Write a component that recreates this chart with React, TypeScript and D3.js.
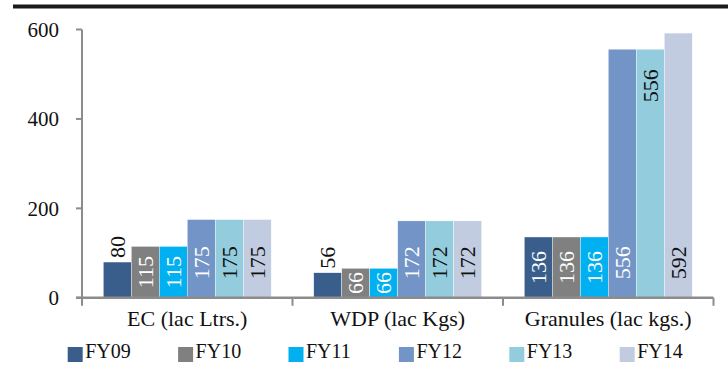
import React from "react";
import * as d3 from "d3";

// Production volumes by product line and fiscal year
const categories = ["EC (lac Ltrs.)", "WDP (lac Kgs)", "Granules (lac kgs.)"];
const seriesNames = ["FY09", "FY10", "FY11", "FY12", "FY13", "FY14"];
const fy09 = [80, 56, 136];
const fy10 = [115, 66, 136];
const fy11 = [115, 66, 136];
const fy12 = [175, 172, 556];
const fy13 = [175, 172, 556];
const fy14 = [175, 172, 592];
const seriesValues = [fy09, fy10, fy11, fy12, fy13, fy14];
const yTicks = [0, 200, 400, 600];

// How each data label is placed relative to its bar
type LabelMode = "outside" | "inside" | "end";
const labelModes: LabelMode[][] = [
  ["outside", "outside", "inside"],
  ["inside", "inside", "inside"],
  ["inside", "inside", "inside"],
  ["inside", "inside", "inside"],
  ["inside", "inside", "end"],
  ["inside", "inside", "inside"],
];

const COLORS = ["#3a5e8c", "#808080", "#00b0f0", "#7394c6", "#93cddd", "#c2cce1"];
const INSIDE_TEXT = ["#ffffff", "#ffffff", "#ffffff", "#ffffff", "#111111", "#111111"];
const FONT = "'Liberation Serif', 'DejaVu Serif', serif";

const W = 728;
const H = 376;
const PLOT = { left: 82, right: 713.5, top: 29.5, bottom: 297.8 };

export default function App() {
  const y = d3.scaleLinear().domain([0, 600]).range([PLOT.bottom, PLOT.top]);
  const x0 = d3.scaleBand<string>().domain(categories).range([PLOT.left, PLOT.right]).padding(0);
  const x1 = d3
    .scaleBand<string>()
    .domain(seriesNames)
    .range([0, x0.bandwidth()])
    .paddingInner(0)
    .paddingOuter(0.76);

  const axisColor = "#8c8c8c";
  const legendStep = 110.4;
  const txt = { fontFamily: FONT };

  return (
    <svg
      width={W}
      height={H}
      style={{ position: "absolute", left: 0, top: 0, display: "block", background: "#fff", fontFamily: FONT }}
    >
      {/* header rule */}
      <rect x={13} y={4.5} width={W - 13} height={4} fill="#1a1a1a" />

      {/* bars */}
      {seriesNames.map((s, si) =>
        categories.map((c, ci) => {
          const v = seriesValues[si][ci];
          const bx = (x0(c) as number) + (x1(s) as number);
          const bw = x1.bandwidth();
          const top = y(v);
          return (
            <rect
              key={`${s}-${c}`}
              x={bx}
              y={top}
              width={bw}
              height={y(0) - top}
              fill={COLORS[si]}
              stroke="#ffffff"
              strokeWidth={0.4}
            />
          );
        })
      )}

      {/* data labels */}
      {seriesNames.map((s, si) =>
        categories.map((c, ci) => {
          const v = seriesValues[si][ci];
          const cx = (x0(c) as number) + (x1(s) as number) + x1.bandwidth() / 2;
          const top = y(v);
          const mode = labelModes[si][ci];
          let ly: number;
          let anchor: "start" | "middle" | "end";
          let fill: string;
          if (mode === "outside") {
            ly = top - 4;
            anchor = "start";
            fill = "#111111";
          } else if (mode === "end") {
            ly = top + 20;
            anchor = "end";
            fill = INSIDE_TEXT[si];
          } else {
            ly = Math.max((top + y(0)) / 2, y(0) - 35);
            anchor = "middle";
            fill = INSIDE_TEXT[si];
          }
          return (
            <text
              key={`lbl-${s}-${c}`}
              transform={`translate(${cx},${ly}) rotate(-90)`}
              textAnchor={anchor}
              dy="0.35em"
              fontSize={22}
              fill={fill}
              style={txt}
            >
              {v}
            </text>
          );
        })
      )}

      {/* y axis */}
      <line x1={PLOT.left} x2={PLOT.left} y1={PLOT.top} y2={PLOT.bottom + 1} stroke={axisColor} strokeWidth={2} />
      {yTicks.map((t) => (
        <g key={`yt-${t}`}>
          <line x1={PLOT.left - 6} x2={PLOT.left} y1={y(t)} y2={y(t)} stroke={axisColor} strokeWidth={2} />
          <text x={59} y={y(t)} dy="0.35em" textAnchor="end" fontSize={21} fill="#111" style={txt}>
            {t}
          </text>
        </g>
      ))}

      {/* x axis */}
      <line x1={PLOT.left - 6} x2={PLOT.right} y1={PLOT.bottom} y2={PLOT.bottom} stroke={axisColor} strokeWidth={2.5} />
      {[...categories.map((c) => x0(c) as number), PLOT.right].map((tx, i) => (
        <line key={`xt-${i}`} x1={tx} x2={tx} y1={PLOT.bottom} y2={PLOT.bottom + 8} stroke={axisColor} strokeWidth={2} />
      ))}
      {categories.map((c) => (
        <text
          key={`xl-${c}`}
          x={(x0(c) as number) + x0.bandwidth() / 2}
          y={326}
          textAnchor="middle"
          fontSize={22}
          fill="#111"
          style={txt}
        >
          {c}
        </text>
      ))}

      {/* legend */}
      {seriesNames.map((s, si) => (
        <g key={`lg-${s}`} transform={`translate(${67.7 + si * legendStep},0)`}>
          <rect x={0} y={347} width={15} height={15} fill={COLORS[si]} />
          <text x={17.5} y={357.7} fontSize={20} fill="#111" style={txt}>
            {s}
          </text>
        </g>
      ))}
    </svg>
  );
}
